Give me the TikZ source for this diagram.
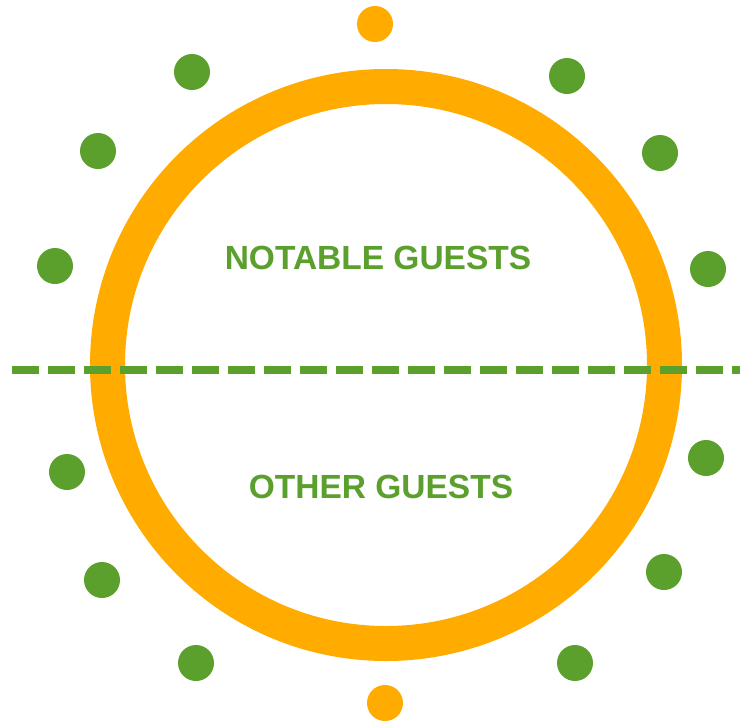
\documentclass[tikz,border=0pt]{standalone}
\usepackage{fontspec}
\setmainfont{Liberation Sans}
\definecolor{ringorange}{RGB}{255,171,0}
\definecolor{guestgreen}{RGB}{91,159,45}
\begin{document}
\begin{tikzpicture}[x=1pt,y=-1pt,
  seat/.style={circle,fill=guestgreen,inner sep=0pt,minimum size=36pt},
  headseat/.style={circle,fill=ringorange,inner sep=0pt,minimum size=36pt},
  tablering/.style={circle,draw=ringorange,line width=35pt,inner sep=0pt,minimum size=557pt},
  label/.style={text=guestgreen,font=\fontsize{33.5pt}{36pt}\selectfont\bfseries,inner sep=0pt},
  divider/.style={draw=guestgreen,line width=8pt,dash pattern=on 27pt off 9pt}]
\useasboundingbox (0,0) rectangle (740,724);
\fill[white] (0,0) rectangle (740,724);
\node[tablering] (ring) at (386,365) {};
\coordinate (dl) at (12,370);
\coordinate (dr) at (740,370);
\draw[divider] (dl) -- (dr);
\node[label] (notable) at (378,258) {NOTABLE GUESTS};
\node[label] (other) at (381,487) {OTHER GUESTS};
\node[headseat] (htop) at (375,24) {};
\node[headseat] (hbot) at (385,703) {};
\node[seat] (s1) at (192,72) {};
\node[seat] (s2) at (567,76) {};
\node[seat] (s3) at (98,151) {};
\node[seat] (s4) at (660,153) {};
\node[seat] (s5) at (55,266) {};
\node[seat] (s6) at (708,269) {};
\node[seat] (s7) at (67,472) {};
\node[seat] (s8) at (706,458) {};
\node[seat] (s9) at (102,580) {};
\node[seat] (s10) at (664,572) {};
\node[seat] (s11) at (196,663) {};
\node[seat] (s12) at (575,663) {};
\end{tikzpicture}
\end{document}
